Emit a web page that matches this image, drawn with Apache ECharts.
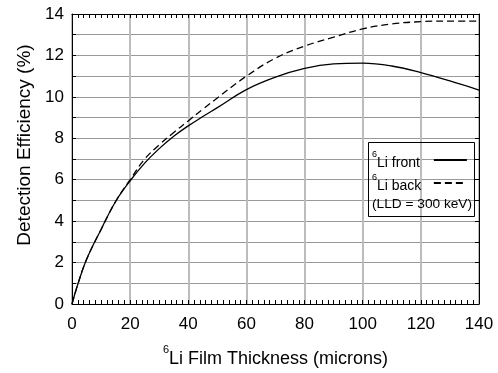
<!DOCTYPE html>
<html>
<head>
<meta charset="utf-8">
<script src="https://cdn.jsdelivr.net/npm/echarts@6/dist/echarts.min.js"></script>
<style>
    html, body { margin: 0; padding: 0; background: #fff; }
    #chart { width: 498px; height: 373px; }
</style>
</head>
<body>
<div id="chart"></div>
<script>
// film thickness (microns)
const thickness = [0, 2, 5, 10, 15, 20, 25, 30, 35, 40, 45, 50, 60, 70, 80, 90, 100, 110, 120, 130, 140];
// detection efficiency (%)
const liFront = [0, 0.95, 2.15, 3.6, 4.95, 5.95, 6.8, 7.5, 8.1, 8.6, 9.05, 9.48, 10.35, 10.95, 11.37, 11.59, 11.63, 11.49, 11.17, 10.77, 10.33];
const liBack = [0, 0.95, 2.15, 3.6, 4.95, 6.0, 7.0, 7.68, 8.28, 8.84, 9.4, 9.95, 11.0, 11.87, 12.45, 12.88, 13.28, 13.52, 13.63, 13.66, 13.66];
const xTicks = [0, 20, 40, 60, 80, 100, 120, 140];
const yTicks = [0, 2, 4, 6, 8, 10, 12, 14];

const FONT = '"Liberation Sans", Arial, sans-serif';
const chart = echarts.init(document.getElementById('chart'), null, { renderer: 'canvas' });

const pairs = (ys) => thickness.map((x, i) => [x, ys[i]]);
// superscript "6" before Li
const supRich = (size, supSize) => ({
    sup: { fontSize: supSize, fontFamily: FONT, color: '#000', verticalAlign: 'top', lineHeight: supSize + 2 },
    t: { fontSize: size, fontFamily: FONT, color: '#000', verticalAlign: 'bottom', lineHeight: size + 6 },
});
const legendRich = supRich(14, 9);
legendRich.front = Object.assign({}, legendRich.t, { padding: [0, 9, 0, 0] });
legendRich.back = Object.assign({}, legendRich.t, { padding: [0, 7.5, 0, 0] });

const tickLine = { color: '#000', width: 1 };
const frameLine = { show: true, onZero: false, lineStyle: { color: '#000', width: 1 } };

const option = {
    animation: false,
    backgroundColor: '#fff',
    textStyle: { fontFamily: FONT },
    grid: { left: 72, right: 19, top: 14, bottom: 69 },
    xAxis: [
        {
            type: 'value',
            min: xTicks[0],
            max: xTicks[xTicks.length - 1],
            interval: 20,
            name: '{sup|6}{t|Li Film Thickness (microns)}',
            nameLocation: 'middle',
            nameGap: 40,
            nameTextStyle: { rich: supRich(18, 11) },
            axisLine: frameLine,
            axisTick: { show: true, inside: true, length: 4, lineStyle: tickLine },
            minorTick: { show: true, splitNumber: 10, length: 4, lineStyle: tickLine },
            axisLabel: { fontSize: 17, color: '#000', margin: 12, fontFamily: FONT },
            splitLine: { show: true, lineStyle: { color: '#bdbdbd', width: 2 } },
        },
        {
            type: 'value',
            position: 'top',
            min: xTicks[0],
            max: xTicks[xTicks.length - 1],
            interval: 20,
            axisLine: frameLine,
            axisTick: { show: true, inside: true, length: 4, lineStyle: tickLine },
            minorTick: { show: true, splitNumber: 10, length: 4, lineStyle: tickLine },
            axisLabel: { show: false },
            splitLine: { show: false },
        },
    ],
    yAxis: [
        {
            type: 'value',
            min: yTicks[0],
            max: yTicks[yTicks.length - 1],
            interval: 2,
            name: 'Detection Efficiency (%)',
            nameLocation: 'middle',
            nameGap: 38,
            nameRotate: 90,
            nameTextStyle: { fontSize: 19, color: '#000', fontFamily: FONT, padding: [0, 0, 0, 28] },
            axisLine: frameLine,
            axisTick: { show: true, inside: true, length: 4, lineStyle: tickLine },
            minorTick: { show: true, splitNumber: 2, length: 4, lineStyle: tickLine },
            axisLabel: { fontSize: 17, color: '#000', margin: 8, fontFamily: FONT },
            splitLine: { show: true, lineStyle: { color: '#999', width: 1 } },
            minorSplitLine: { show: true, lineStyle: { color: '#999', width: 1 } },
        },
        {
            type: 'value',
            position: 'right',
            min: yTicks[0],
            max: yTicks[yTicks.length - 1],
            interval: 2,
            axisLine: frameLine,
            axisTick: { show: true, inside: true, length: 4, lineStyle: tickLine },
            minorTick: { show: true, splitNumber: 2, length: 4, lineStyle: tickLine },
            axisLabel: { show: false },
            splitLine: { show: false },
        },
    ],
    legend: {
        orient: 'vertical',
        left: 372,
        top: 150,
        padding: 0,
        align: 'right',
        itemWidth: 33,
        itemHeight: 10,
        itemGap: 3,
        itemStyle: { opacity: 0 },
        data: ['front', 'back'],
        formatter: (name) => '{sup|6}{' + name + '|Li ' + name + '}',
        textStyle: { rich: legendRich },
    },
    graphic: [
        {
            type: 'rect',
            shape: { x: 368.5, y: 142.5, width: 106, height: 74 },
            style: { fill: 'rgba(255,255,255,0)', stroke: '#000', lineWidth: 1 },
            z: 100,
        },
        {
            type: 'text',
            left: 372,
            top: 197,
            style: { text: '(LLD = 300 keV)', fontSize: 13.7, fontFamily: FONT, fill: '#000' },
            z: 100,
        },
    ],
    series: [
        {
            name: 'front',
            type: 'line',
            data: pairs(liFront),
            smooth: 0.4,
            symbol: 'none',
            lineStyle: { color: '#000', width: 1.3, type: 'solid' },
            itemStyle: { color: '#000' },
            z: 10,
        },
        {
            name: 'back',
            type: 'line',
            data: pairs(liBack),
            smooth: 0.4,
            symbol: 'none',
            lineStyle: { color: '#000', width: 1.3, type: [7, 4] },
            itemStyle: { color: '#000' },
            z: 10,
        },
    ],
};

chart.setOption(option);
</script>
</body>
</html>
